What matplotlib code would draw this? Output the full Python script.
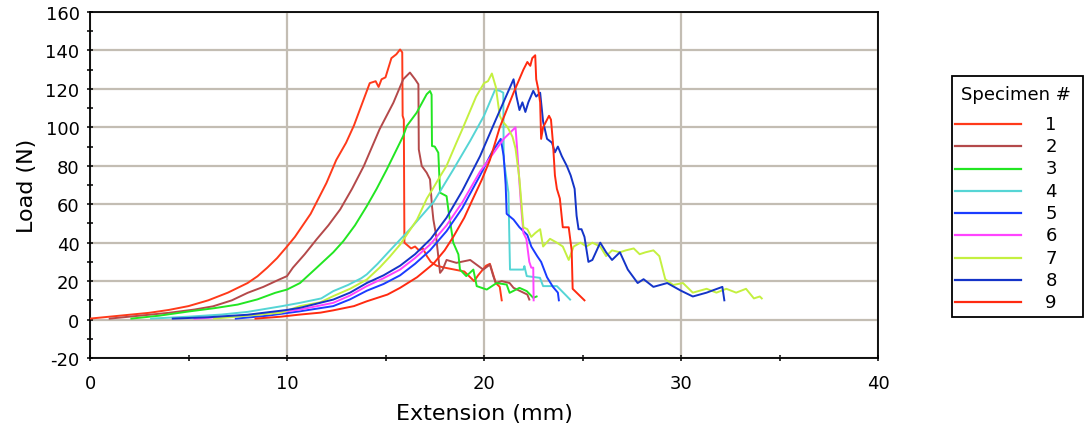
import matplotlib
matplotlib.use("Agg")
import matplotlib.pyplot as plt
from matplotlib.lines import Line2D
from matplotlib.patches import Rectangle
from matplotlib.ticker import MultipleLocator

plt.rcParams["axes.unicode_minus"] = False

# ---------------- data ----------------
labels = ["1", "2", "3", "4", "5", "6", "7", "8", "9"]
colors = ["#ff3a1a", "#b4494a", "#22e622", "#55d5d5", "#1a3cff",
          "#ff44ff", "#c4f040", "#1434c8", "#ff2a10"]

x1 = [0.0, 1.0, 2.0, 3.0, 4.0, 5.0, 6.0, 7.0, 8.0, 8.5, 9.0, 9.5, 10.0, 10.4, 10.8, 11.2,
      11.5, 12.0, 12.5, 13.0, 13.4, 13.8, 14.2, 14.5, 14.65, 14.8, 15.0, 15.3, 15.55,
      15.74, 15.85, 15.87, 15.93, 15.96, 16.3, 16.5, 16.7, 16.9, 17.1, 17.3, 17.6, 18.0,
      18.5, 19.0, 19.5, 19.7, 20.1, 20.3, 20.6, 20.8, 20.9]
y1 = [0.5, 1.5, 2.5, 3.5, 5.0, 7.0, 10.0, 14.0, 19.0, 22.5, 27.0, 32.0, 38.0, 43.0, 49.0,
      55.0, 61.0, 71.0, 83.0, 92.0, 101.0, 112.0, 123.0, 124.0, 121.0, 125.0, 126.0,
      136.0, 138.0, 140.5, 139.0, 106.0, 104.0, 40.0, 37.0, 38.0, 36.0, 37.0, 33.0, 30.0,
      28.0, 27.0, 26.0, 25.0, 20.0, 23.0, 28.0, 29.0, 19.0, 17.0, 10.0]

x2 = [1.0, 2.0, 3.0, 4.0, 5.3, 6.25, 7.2, 8.0, 8.8, 9.6, 10.0, 10.3, 10.9, 11.5, 12.1,
      12.7, 13.3, 13.9, 14.7, 15.4, 15.9, 16.24, 16.5, 16.67, 16.69, 16.84, 17.09,
      17.26, 17.36, 17.43, 17.55, 17.77, 17.9, 18.1, 18.6, 19.3, 19.96, 20.3, 20.47,
      20.6, 20.9, 21.3, 21.5, 22.2, 22.3]
y2 = [0.5, 1.5, 2.5, 3.5, 5.2, 6.9, 10.0, 13.9, 17.0, 20.8, 22.6, 27.0, 34.0, 41.7, 49.0,
      57.3, 68.0, 79.9, 99.0, 112.8, 125.0, 128.5, 125.0, 122.4, 88.5, 79.9, 76.4,
      72.9, 59.0, 52.0, 45.0, 24.3, 26.0, 31.0, 29.5, 31.0, 26.0, 28.6, 22.6,
      19.0, 20.0, 19.0, 16.5, 13.0, 10.4]

x3 = [2.1, 3.5, 5.08, 6.3, 7.5, 8.5, 9.4, 10.0, 10.66, 11.5, 12.35, 12.86, 13.45, 14.05,
      14.55, 15.06, 15.9, 16.08, 16.58, 17.09, 17.26, 17.34, 17.36, 17.5, 17.68, 17.77,
      18.1, 18.19, 18.44, 18.7, 18.78, 19.1, 19.46, 19.63, 20.14, 20.64, 21.15, 21.3,
      21.8, 22.17, 22.5, 22.67]
y3 = [0.5, 2.0, 4.3, 5.9, 7.8, 10.5, 13.9, 15.6, 19.0, 26.9, 35.0, 40.8, 49.0, 59.0,
      68.0, 78.0, 95.5, 100.7, 107.6, 117.2, 118.9, 117.0, 90.3, 90.0, 86.8, 66.0,
      64.2, 57.3, 40.0, 33.9, 26.0, 22.6, 26.0, 17.4, 15.6, 19.0, 18.2, 13.9,
      16.5, 14.8, 11.3, 12.0]

x4 = [3.1, 5.0, 6.67, 8.0, 9.7, 10.66, 11.74, 12.35, 13.1, 13.77, 14.05, 14.6, 15.23,
      16.24, 17.43, 18.44, 19.3, 20.0, 20.56, 20.8, 20.98, 21.0, 21.24, 21.32, 22.0,
      22.05, 22.17, 22.84, 23.0, 23.7, 24.2, 24.37]
y4 = [0.5, 1.5, 2.6, 4.0, 6.9, 8.7, 11.0, 14.8, 18.0, 21.5, 23.5, 29.0, 36.0,
      47.0, 61.0, 78.0, 93.0, 106.0, 119.5, 119.0, 118.0, 83.3, 66.0, 26.0, 26.0,
      27.8, 22.6, 21.7, 17.4, 17.4, 12.2, 10.4]

x5 = [7.4, 9.0, 10.66, 12.35, 13.2, 14.05, 14.9, 15.74, 16.5, 17.26, 18.1, 18.9, 19.8,
      20.4, 20.85, 21.0, 21.1, 21.15, 21.5, 21.8, 22.2, 22.4, 22.7, 22.9, 23.2, 23.5,
      23.75, 23.8]
y5 = [0.5, 2.0, 4.3, 7.0, 10.5, 15.0, 18.5, 23.0, 29.0, 36.0, 46.0, 58.0, 75.0,
      87.0, 94.0, 85.0, 70.0, 55.0, 52.0, 48.0, 44.0, 38.0, 33.0, 30.0, 22.0, 17.0,
      14.0, 10.0]

x6 = [5.3, 7.0, 9.0, 10.66, 12.35, 13.2, 14.05, 14.9, 15.74, 16.5, 17.26, 18.1, 18.9,
      19.8, 20.3, 20.65, 21.0, 21.3, 21.6, 21.68, 21.8, 21.9, 22.0, 22.15, 22.3, 22.4,
      22.5, 22.52]
y6 = [0.5, 1.5, 3.0, 5.2, 8.7, 12.5, 17.4, 21.5, 26.0, 32.0, 39.0, 49.0, 61.0,
      77.0, 84.0, 89.0, 94.0, 97.0, 100.0, 89.0, 71.0, 57.0, 45.0, 42.0, 30.0, 27.0,
      27.0, 10.0]

x7 = [6.3, 8.0, 9.7, 10.66, 11.7, 12.35, 13.2, 14.05, 14.7, 15.2, 15.74, 16.6, 17.1,
      17.4, 17.8, 18.1, 18.6, 18.9, 19.6, 20.0, 20.2, 20.4, 20.6, 20.8, 20.95, 21.2,
      21.45, 21.6, 21.8, 22.0, 22.2, 22.4, 22.6, 22.85, 23.0, 23.35, 23.7, 24.0, 24.3,
      24.55, 24.9, 25.2, 25.5, 25.9, 26.2, 26.5, 26.9, 27.2, 27.6, 27.9, 28.2, 28.6,
      28.9, 29.2, 29.6, 30.1, 30.6, 31.3, 31.8, 32.3, 32.8, 33.3, 33.7, 34.0, 34.1]
y7 = [0.5, 2.0, 3.6, 7.0, 9.0, 12.2, 16.0, 20.8, 27.0, 32.5, 39.0, 52.0, 63.0,
      68.0, 75.0, 80.0, 92.0, 99.0, 116.0, 123.0, 124.0, 128.0, 121.0, 106.0, 103.0,
      100.0, 95.0, 89.0, 73.0, 48.0, 47.0, 43.0, 45.0, 47.0, 38.0, 42.0, 40.0, 38.0,
      31.0, 38.0, 40.0, 38.0, 40.0, 38.0, 33.0, 36.0, 35.0, 36.0, 37.0, 34.0, 35.0,
      36.0, 33.0, 21.0, 18.0, 19.0, 14.0, 16.0, 14.0, 16.0, 14.0, 16.0, 11.0, 12.0, 11.0]

x8 = [4.2, 6.0, 8.0, 10.0, 10.66, 12.35, 13.2, 14.05, 14.9, 15.74, 16.5, 17.3, 18.1, 18.9,
      19.8, 20.6, 21.5, 21.65, 21.8, 21.95, 22.1, 22.25, 22.5, 22.65, 22.85, 23.0, 23.2,
      23.45, 23.6, 23.75, 23.95, 24.05, 24.2, 24.4, 24.6, 24.7, 24.8, 24.95, 25.1, 25.3,
      25.5, 25.9, 26.2, 26.5, 26.9, 27.3, 27.8, 28.1, 28.6, 29.3, 30.0, 30.6, 31.3,
      32.1, 32.2]
y8 = [0.5, 1.2, 2.5, 5.0, 6.1, 10.4, 14.0, 19.0, 23.0, 28.0, 34.0, 42.0, 53.0, 67.0,
      85.0, 104.0, 125.0, 116.0, 109.0, 113.0, 108.0, 113.0, 119.0, 116.0, 118.0, 103.0,
      94.0, 92.0, 87.0, 90.0, 85.0, 83.0, 80.0, 75.0, 68.0, 54.0, 47.0, 47.0, 43.0,
      30.0, 31.0, 40.0, 35.0, 31.0, 35.0, 26.0, 19.0, 21.0, 17.0, 19.0, 15.0, 12.0,
      14.0, 17.0, 10.0]

x9 = [8.4, 9.7, 10.66, 11.7, 12.35, 13.4, 14.05, 15.1, 15.74, 16.6, 17.43, 18.0, 18.44,
      19.0, 19.4, 19.9, 20.3, 20.8, 21.5, 22.0, 22.2, 22.35, 22.45, 22.6, 22.65, 22.75,
      22.85, 22.9, 23.0, 23.3, 23.4, 23.5, 23.6, 23.7, 23.85, 24.0, 24.3, 24.45, 24.5,
      24.7, 25.0, 25.1]
y9 = [0.5, 1.5, 2.6, 3.6, 4.8, 7.0, 9.5, 13.0, 16.5, 22.0, 29.0, 36.0, 43.0,
      53.0, 62.0, 73.0, 83.0, 100.0, 118.0, 130.0, 134.0, 132.0, 136.0, 137.5, 125.0,
      120.0, 113.0, 94.0, 100.0, 106.0, 104.0, 92.0, 75.0, 68.0, 63.0, 48.0, 48.0,
      36.0, 16.0, 14.0, 11.0, 10.0]

series_x = [x1, x2, x3, x4, x5, x6, x7, x8, x9]
series_y = [y1, y2, y3, y4, y5, y6, y7, y8, y9]

# ---------------- figure ----------------
W, H = 1086, 439
fig = plt.figure(figsize=(W / 100, H / 100), dpi=100)
ax = fig.add_axes([90 / W, (H - 359) / H, 788 / W, 346 / H])

ax.set_xlim(0, 40)
ax.set_ylim(-20, 160)
ax.xaxis.set_major_locator(MultipleLocator(10))
ax.xaxis.set_minor_locator(MultipleLocator(5))
ax.yaxis.set_major_locator(MultipleLocator(20))
ax.yaxis.set_minor_locator(MultipleLocator(10))
ax.grid(True, which="major", color="#c3bdb3", linewidth=1.6, zorder=0)
ax.set_axisbelow(True)

for sp in ax.spines.values():
    sp.set_color("black")
    sp.set_linewidth(1.3)

ax.tick_params(axis="both", which="both", direction="inout", length=5, width=1.1,
               color="black", labelsize=13, top=False, right=False)
ax.tick_params(axis="y", pad=5)
ax.tick_params(axis="x", pad=9)

lines = []
for xs, ys, c, lab in zip(series_x, series_y, colors, labels):
    ln, = ax.plot(xs, ys, color=c, linewidth=1.4, label=lab, zorder=3)
    lines.append(ln)

ax.set_xlabel("Extension (mm)", fontsize=16, labelpad=8)
ax.set_ylabel("Load (N)", fontsize=16, labelpad=6)

# ---------------- legend (figure pixel coordinates) ----------------
def fx(px):
    return px / W

def fy(py):
    return 1 - py / H

fig.patches.append(Rectangle((fx(952), fy(318)), 131 / W, 241 / H,
                             transform=fig.transFigure, facecolor="white",
                             edgecolor="black", linewidth=1.3, zorder=5))
fig.text(fx(1015.5), fy(95), "Specimen #", fontsize=13, ha="center", va="center",
         zorder=6)
for i, ln in enumerate(lines):
    yy = 125 + i * 22.25
    fig.lines.append(Line2D([fx(955), fx(1021)], [fy(yy), fy(yy)],
                            transform=fig.transFigure, color=ln.get_color(),
                            linewidth=1.6, zorder=6))
    fig.text(fx(1051), fy(yy), ln.get_label(), fontsize=13, ha="center",
             va="center", zorder=6)

fig.savefig("out.png", dpi=100)
